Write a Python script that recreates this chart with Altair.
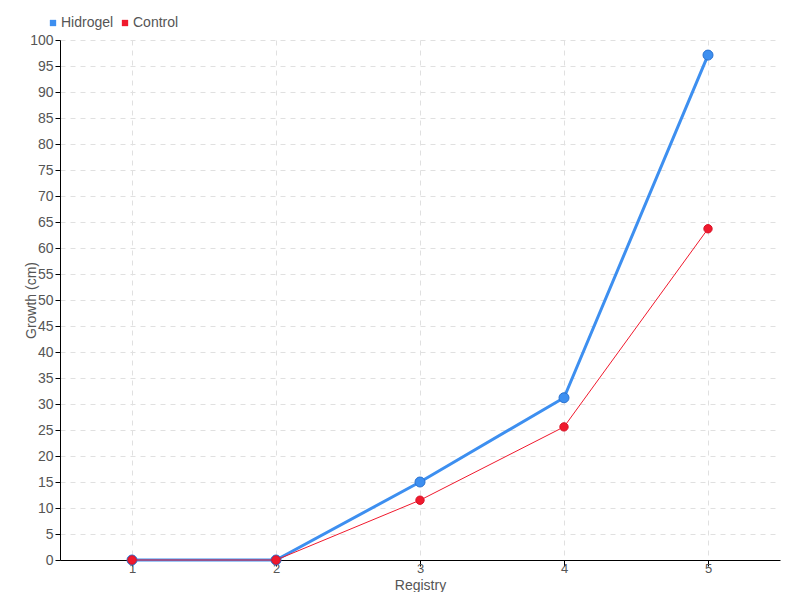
import altair as alt
import pandas as pd

registry = [1, 2, 3, 4, 5]
hidrogel = [0, 0, 15, 31.2, 97.1]
control = [0, 0, 11.5, 25.6, 63.7]
series_names = ["Hidrogel", "Control"]
y_ticks = list(range(0, 101, 5))

rows = []
for s, vals in zip(series_names, [hidrogel, control]):
    for r, v in zip(registry, vals):
        rows.append({"Registry": r, "Growth": v, "series": s})
df = pd.DataFrame(rows)

FONT = "Liberation Sans Narrow, Liberation Sans, sans-serif"
colors = ["#3d8ff0", "#f0192d"]

color = alt.Color("series:N", scale=alt.Scale(domain=series_names, range=colors),
                  legend=alt.Legend(title=None, orient="none", legendX=-14, legendY=-24,
                                    direction="horizontal", symbolType="square", symbolSize=40,
                                    labelFont=FONT, labelFontSize=14, labelColor="#555",
                                    columnPadding=4, symbolStrokeWidth=0, labelOffset=1))

x = alt.X("Registry:O", scale=alt.Scale(type="point", padding=0.5), title="Registry",
          axis=alt.Axis(labelAngle=0, domainColor="#000", tickColor="#000", tickSize=6,
                        labelPadding=-4,
                        labelFont=FONT, labelFontSize=13, labelColor="#555",
                        titleFont=FONT, titleFontSize=14, titleColor="#555", titleFontWeight="normal",
                        titleBaseline="alphabetic", titleY=29,
                        grid=True, gridDash=[5, 5], gridColor="#e0e0e0"))
y = alt.Y("Growth:Q", scale=alt.Scale(domain=[0, 100], nice=False), title="Growth (cm)",
          axis=alt.Axis(values=y_ticks, domainColor="#000", tickColor="#000", tickSize=5,
                        labelPadding=2,
                        labelFont=FONT, labelFontSize=14, labelColor="#555",
                        titleFont=FONT, titleFontSize=14, titleColor="#555", titleFontWeight="normal",
                        titleBaseline="alphabetic", titleX=-25, titleY=260,
                        grid=True, gridDash=[5, 5], gridColor="#e0e0e0"))

base = alt.Chart(df)
lines = base.mark_line().encode(
    x=x, y=y, color=color, detail="series:N",
    strokeWidth=alt.condition("datum.series == 'Hidrogel'", alt.value(3), alt.value(1)),
)
points = base.mark_point(filled=True, opacity=1).encode(
    x=x, y=y, color=color,
    size=alt.condition("datum.series == 'Hidrogel'", alt.value(100), alt.value(70)),
    stroke=alt.condition("datum.series == 'Hidrogel'", alt.value("#2a72d0"), alt.value("#d81428")),
    strokeWidth=alt.value(1),
)

hid_l = lines.transform_filter("datum.series == 'Hidrogel'")
hid_p = points.transform_filter("datum.series == 'Hidrogel'")
con_l = lines.transform_filter("datum.series == 'Control'")
con_p = points.transform_filter("datum.series == 'Control'")

chart = alt.layer(hid_l, hid_p, con_l, con_p).properties(
    width=720, height=520,
    autosize=alt.AutoSizeParams(type="none"),
    padding={"left": 52, "top": 32, "right": 12, "bottom": 32},
    background="white",
).configure_view(stroke="transparent", strokeWidth=0)

chart.save("out.html", embed_options={"renderer": "svg", "actions": False})
